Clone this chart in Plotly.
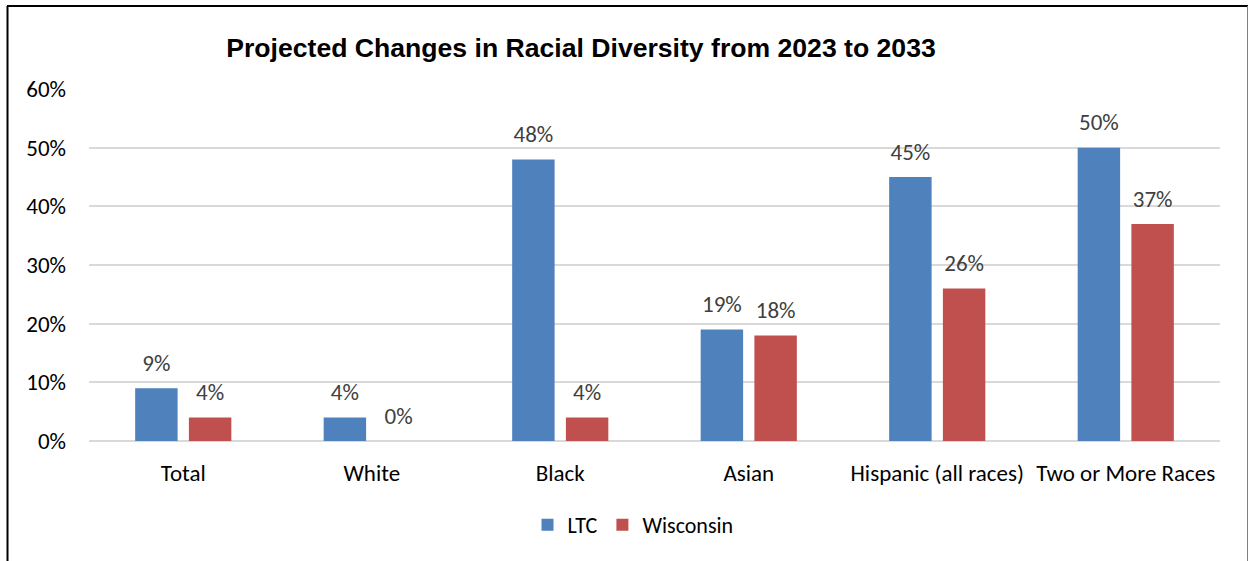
import plotly.graph_objects as go

categories = ["Total", "White", "Black", "Asian", "Hispanic (all races)", "Two or More Races"]
ltc_values = [9, 4, 48, 19, 45, 50]
wisconsin_values = [4, 0, 4, 18, 26, 37]
y_ticks = [0, 10, 20, 30, 40, 50, 60]
y_tick_labels = [f"{v}%" for v in y_ticks]

W, H = 1249, 561
L, R, T, B = 89, 29, 89, 120
PW, PH = W - L - R, H - T - B


def px_x(x):
    return (x - L) / PW


def px_y(y):
    return (H - B - y) / PH


FONT = "Calibri, Carlito, Lato, sans-serif"
label_font = dict(family=FONT, size=23, color="#404040")
tick_font = dict(family=FONT, size=23, color="#000000")

series = [
    ("LTC", ltc_values, "#4F81BD", "g1"),
    ("Wisconsin", wisconsin_values, "#C0504D", "g2"),
]

fig = go.Figure()
for name, vals, color, grp in series:
    fig.add_trace(go.Bar(
        name=name, x=categories, y=vals, offsetgroup=grp,
        marker=dict(color=color, line=dict(width=0)),
    ))
# value labels floated above each bar
for name, vals, color, grp in series:
    fig.add_trace(go.Scatter(
        x=categories, y=vals, offsetgroup=grp, mode="markers+text",
        marker=dict(size=17, color="rgba(0,0,0,0)"),
        text=[f"{v}%" for v in vals], textposition="top center",
        textfont=label_font, cliponaxis=False, showlegend=False,
        hoverinfo="skip",
    ))

fig.update_layout(
    width=W, height=H,
    margin=dict(l=L, r=R, t=T, b=B, autoexpand=False),
    paper_bgcolor="white", plot_bgcolor="white",
    barmode="group", bargap=0.43, bargroupgap=0.21,
    scattermode="group", scattergap=0.43,
    title=dict(
        text="<b>Projected Changes in Racial Diversity from 2023 to 2033</b>",
        x=581 / W, xanchor="center", xref="container",
        y=1 - 48 / H, yanchor="middle", yref="container",
        font=dict(family="Arial, Liberation Sans, sans-serif", size=26.6, color="#000000"),
    ),
    legend=dict(
        orientation="h", x=px_x(633), xanchor="center",
        y=px_y(525), yanchor="middle",
        font=dict(family=FONT, size=22, color="#000000"),
        itemwidth=30, traceorder="normal",
    ),
    showlegend=True,
)

fig.update_xaxes(
    showgrid=False, showline=False, zeroline=False,
    tickfont=tick_font, ticks="", ticklabelstandoff=16,
)
fig.update_yaxes(
    range=[0, 60], tickvals=y_ticks, ticktext=y_tick_labels,
    showgrid=True, gridcolor="#D9D9D9", gridwidth=2,
    zeroline=True, zerolinecolor="#D9D9D9", zerolinewidth=2,
    showline=False, ticks="", tickfont=tick_font, ticklabelstandoff=22,
)

# Outer frame: heavy top and left edges, light right edge
frame = [
    dict(x0=7, y0=6, x1=1248, y1=6, color="#000000", width=2),
    dict(x0=7.5, y0=6, x1=7.5, y1=561, color="#000000", width=2),
    dict(x0=1247.5, y0=6, x1=1247.5, y1=561, color="#808080", width=1),
]
for f in frame:
    fig.add_shape(
        type="line", xref="paper", yref="paper",
        x0=px_x(f["x0"]), x1=px_x(f["x1"]), y0=px_y(f["y0"]), y1=px_y(f["y1"]),
        line=dict(color=f["color"], width=f["width"]),
    )

fig.write_html("out.html")
